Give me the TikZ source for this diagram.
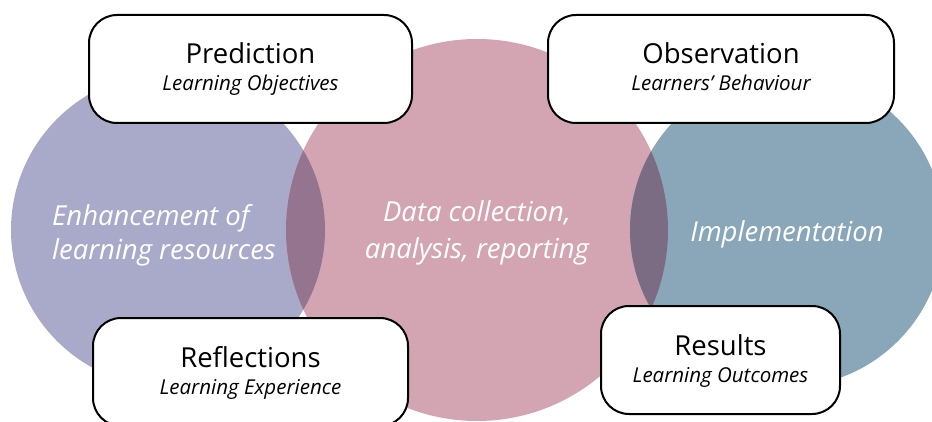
\documentclass[tikz,border=0pt]{standalone}
\usepackage{fontspec}
\setmainfont{Open Sans}
\usetikzlibrary{positioning}
\definecolor{leftc}{RGB}{169,170,201}
\definecolor{midc}{RGB}{211,165,178}
\definecolor{rightc}{RGB}{138,167,186}
\definecolor{lensL}{RGB}{148,116,142}
\definecolor{lensR}{RGB}{123,108,131}
\tikzset{
	stagebox/.style={draw=black,line width=2pt,fill=white,rounded corners=28pt,
		minimum height=108pt,inner sep=0pt},
	stagetitle/.style={anchor=base,font=\fontsize{27.5}{30}\selectfont},
	stagesub/.style={anchor=base,font=\fontsize{20.5}{22}\selectfont\itshape},
	ringtext/.style={text=white,anchor=base,inner sep=0pt,font=\fontsize{27.5}{30}\selectfont\itshape}
}

\begin{document}
\begin{tikzpicture}[x=1pt,y=1pt]
	
	\def\W{932}      % picture width
	\def\H{421}      % picture height
	\def\yc{191}     % height of circle centres
	\def\rs{157}     % radius of side circles
	\def\rm{191}     % radius of middle circle
	\coordinate (CL) at (168,\yc);
	\coordinate (CM) at (477,\yc);
	\coordinate (CR) at (787,\yc);
	
	\useasboundingbox (0,0) rectangle (\W,\H);
	\clip (0,0) rectangle (\W,\H);
	
	% CIRCLES
	\fill[leftc] (CL) circle (\rs);
	\fill[midc] (CM) circle (\rm);
	\fill[rightc] (CR) circle (\rs);
	
	% OVERLAPS
	\begin{scope}
		\clip (CL) circle (\rs);
		\fill[lensL] (CM) circle (\rm);
	\end{scope}
	\begin{scope}
		\clip (CR) circle (\rs);
		\fill[lensR] (CM) circle (\rm);
	\end{scope}
	
	% CIRCLE TEXT
	\node[ringtext,anchor=base west] (enhA) at (52,196) {Enhancement of};
	\node[ringtext,anchor=base west] (enhB) at (52,161) {learning resources};
	\node[ringtext] (dataA) at (477,199) {Data collection,};
	\node[ringtext] (dataB) at (477,163) {analysis, reporting};
	\node[ringtext] (impl) at (787,179) {Implementation};
	
	% BOXES
	\node[stagebox,minimum width=323pt] (pred) at (250.5,352) {};
	\node[stagebox,minimum width=346pt] (obs) at (721,352) {};
	\node[stagebox,minimum width=315pt] (refl) at (250.5,49) {};
	\node[stagebox,minimum width=239pt] (res) at (720.5,61) {};
	
	% BOX TEXT
	\node[stagetitle] (predT) at ([yshift=-50pt]pred.north) {Prediction};
	\node[stagesub] (predS) at ([yshift=-27pt]predT.base) {Learning Objectives};
	\node[stagetitle] (obsT) at ([yshift=-50pt]obs.north) {Observation};
	\node[stagesub] (obsS) at ([yshift=-27pt]obsT.base) {Learners’ Behaviour};
	\node[stagetitle] (reflT) at ([yshift=-50pt]refl.north) {Reflections};
	\node[stagesub] (reflS) at ([yshift=-27pt]reflT.base) {Learning Experience};
	\node[stagetitle] (resT) at ([yshift=-50pt]res.north) {Results};
	\node[stagesub] (resS) at ([yshift=-27pt]resT.base) {Learning Outcomes};
	
\end{tikzpicture}
\end{document}
